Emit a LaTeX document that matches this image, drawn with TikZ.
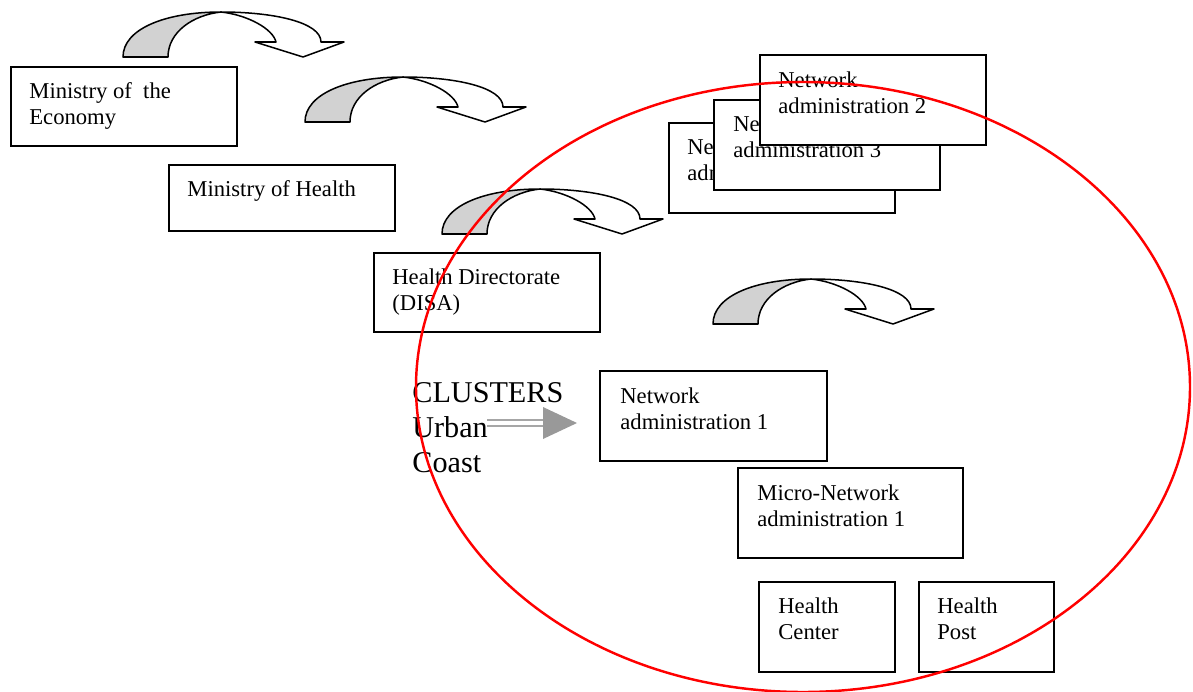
\documentclass[tikz,border=0pt]{standalone}
\usepackage{fontspec}
\setmainfont{Liberation Serif}

\tikzset{
  box/.style 2 args={draw, fill=white, line width=0.9pt, anchor=north west,
    inner sep=0pt, minimum width=#1*0.53pt, minimum height=#2*0.53pt},
  txt/.style={anchor=north west, inner sep=0pt, align=left,
    font=\fontsize{12}{13.8}\selectfont},
  bendarrow/.style={line width=0.8pt, line join=round},
}

\begin{document}
\begin{tikzpicture}[x=0.53pt, y=-0.53pt]
  \useasboundingbox (0,0) rectangle (1193,692);

  % curved arrows between the levels
  \foreach \ax/\ay in {123/57, 305/122, 442/234, 713/324} {
    \begin{scope}[shift={(\ax,\ay)}]
      \filldraw[bendarrow, fill=white]
        (98,-45) .. controls (150,-45) and (198,-35) .. (198,-15)
        -- (221,-15) -- (180,0) -- (132,-15) -- (153,-15)
        .. controls (150,-28) and (125,-42) .. (98,-45) -- cycle;
      \filldraw[bendarrow, fill=gray!35]
        (0,0) .. controls (0,-28) and (42,-45) .. (98,-45)
        .. controls (70,-42) and (45,-25) .. (45,0) -- cycle;
    \end{scope}
  }

  % Ministries and directorate
  \node[box={226}{79}] (eco) at (10,66) {};
  \node[txt] (ecotxt) at ([shift={(19,16)}]eco.north west) {Ministry of\ \ the\\Economy};

  \node[box={226}{66}] (health) at (168,164) {};
  \node[txt] (healthtxt) at ([shift={(19,16)}]health.north west) {Ministry of Health};

  \node[box={226}{79}] (disa) at (373,252) {};
  \node[txt] (disatxt) at ([shift={(19,16)}]disa.north west) {Health Directorate\\(DISA)};

  % Network administrations (stacked)
  \node[box={226}{90}] (netb) at (668,122) {};
  \node[txt] (netbtxt) at ([shift={(19,16)}]netb.north west) {Network\\administration};

  \node[box={226}{90}] (net3) at (713,99) {};
  \node[txt] (net3txt) at ([shift={(20,16)}]net3.north west) {Network\\administration 3};

  \node[box={226}{90}] (net2) at (759,54) {};
  \node[txt] (net2txt) at ([shift={(19,17)}]net2.north west) {Network\\administration 2};

  \node[box={227}{90}] (net1) at (599,370) {};
  \node[txt] (net1txt) at ([shift={(21,17)}]net1.north west) {Network\\administration 1};

  \node[box={225}{90}] (micro) at (737,467) {};
  \node[txt] (microtxt) at ([shift={(20,17)}]micro.north west) {Micro-Network\\administration 1};

  \node[box={136}{90}] (center) at (758,581) {};
  \node[txt] (centertxt) at ([shift={(20,16)}]center.north west) {Health\\Center};

  \node[box={135}{90}] (post) at (918,581) {};
  \node[txt] (posttxt) at ([shift={(19,16)}]post.north west) {Health\\Post};

  % Clusters
  \node[anchor=north west, inner sep=0pt, align=left,
    font=\fontsize{16}{18.5}\selectfont] (clusters) at (412,382) {CLUSTERS\\Urban\\Coast};
  \coordinate (cls) at (487,423);
  \coordinate (clh) at (543,423);
  \draw[gray!70, line width=1.2pt, double=white, double distance=1.8pt] (cls) -- (clh);
  \fill[gray!80] (clh) ++(0,-16) -- ++(34,16) -- ++(-34,16) -- cycle;

  % red ellipse
  \draw[red, line width=1.3pt] (803,387) ellipse [x radius=387, y radius=305];
\end{tikzpicture}
\end{document}
